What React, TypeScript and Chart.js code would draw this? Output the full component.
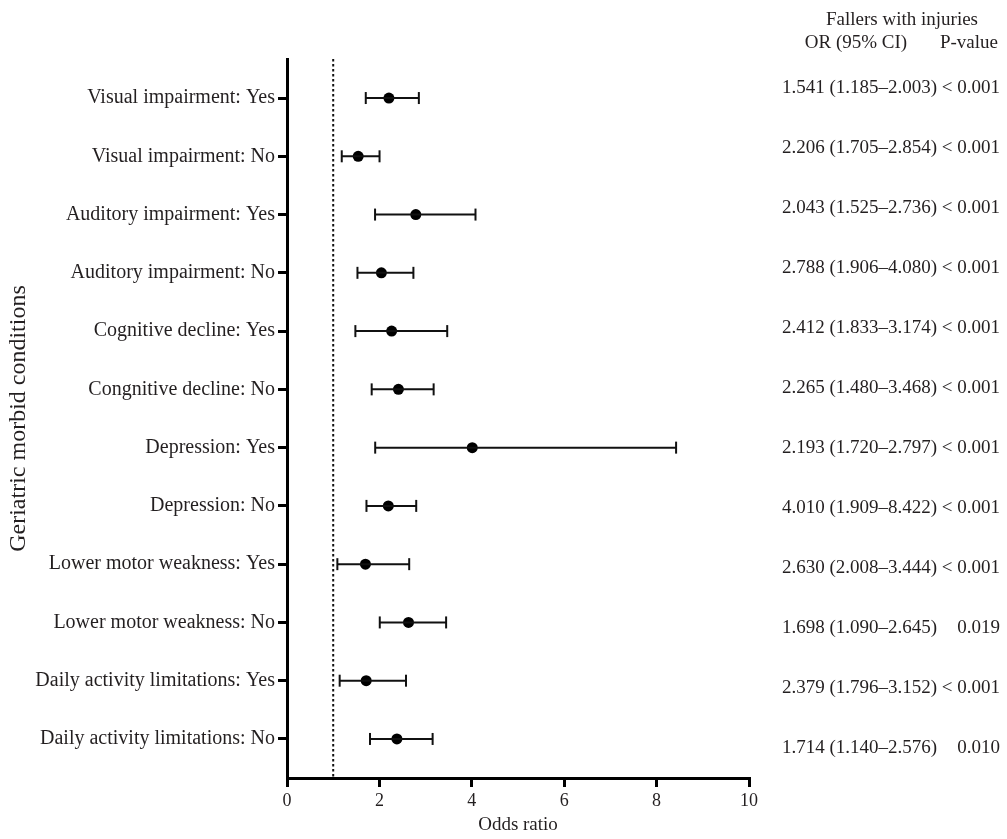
import React, { useEffect, useRef } from "react";
import { Chart, registerables } from "chart.js";

Chart.register(...registerables);

const categories = [
  "Visual impairment: Yes",
  "Visual impairment: No",
  "Auditory impairment: Yes",
  "Auditory impairment: No",
  "Cognitive decline: Yes",
  "Congnitive decline: No",
  "Depression: Yes",
  "Depression: No",
  "Lower motor weakness: Yes",
  "Lower motor weakness: No",
  "Daily activity limitations: Yes",
  "Daily activity limitations: No",
];

// plotted odds ratios and 95% CI
const oddsRatio = [2.206, 1.541, 2.788, 2.043, 2.265, 2.412, 4.01, 2.193, 1.698, 2.63, 1.714, 2.379];
const ciLow = [1.705, 1.185, 1.906, 1.525, 1.48, 1.833, 1.909, 1.72, 1.09, 2.008, 1.14, 1.796];
const ciHigh = [2.854, 2.003, 4.08, 2.736, 3.468, 3.174, 8.422, 2.797, 2.645, 3.444, 2.576, 3.152];

// right-hand table text, as printed
const tableOR = [
  "1.541 (1.185–2.003)",
  "2.206 (1.705–2.854)",
  "2.043 (1.525–2.736)",
  "2.788 (1.906–4.080)",
  "2.412 (1.833–3.174)",
  "2.265 (1.480–3.468)",
  "2.193 (1.720–2.797)",
  "4.010 (1.909–8.422)",
  "2.630 (2.008–3.444)",
  "1.698 (1.090–2.645)",
  "2.379 (1.796–3.152)",
  "1.714 (1.140–2.576)",
];
const tableP = ["< 0.001", "< 0.001", "< 0.001", "< 0.001", "< 0.001", "< 0.001", "< 0.001", "< 0.001", "< 0.001", "0.019", "< 0.001", "0.010"];

const xTicks = [0, 2, 4, 6, 8, 10];
const referenceLine = 1;

const FONT = "'Liberation Serif', 'Times New Roman', serif";
const TEXT = "#231f20";

export default function App() {
  const ref = useRef<HTMLCanvasElement | null>(null);

  useEffect(() => {
    if (!ref.current) return;
    const yMin = -0.67;
    const yMax = categories.length - 1 + 0.67;

    const tablePlugin = {
      id: "tablePlugin",
      afterDraw(chart: any) {
        const ctx = chart.ctx;
        ctx.save();
        ctx.fillStyle = TEXT;
        ctx.font = `19px ${FONT}`;
        ctx.textBaseline = "middle";
        ctx.textAlign = "center";
        ctx.fillText("Fallers with injuries", 902, 20);
        ctx.fillText("OR (95% CI)", 856, 43);
        ctx.fillText("P-value", 969, 43);
        tableOR.forEach((t, i) => {
          const y = 88 + i * 60;
          ctx.textAlign = "left";
          ctx.fillText(t, 782, y);
          ctx.textAlign = "right";
          ctx.fillText(tableP[i], 1000, y);
        });
        ctx.restore();
      },
    };

    const ciSets = categories.map((_, i) => ({
      type: "scatter" as const,
      showLine: true,
      data: [
        { x: ciLow[i], y: i },
        { x: ciHigh[i], y: i },
      ],
      borderColor: "#111",
      borderWidth: 2,
      pointStyle: "line" as const,
      rotation: 90,
      pointRadius: 6,
      pointBorderWidth: 2,
      pointBorderColor: "#111",
    }));

    const chart = new Chart(ref.current, {
      type: "scatter",
      data: {
        datasets: [
          {
            type: "scatter",
            showLine: true,
            data: [
              { x: referenceLine, y: yMin },
              { x: referenceLine, y: yMax },
            ],
            borderColor: "#111",
            borderWidth: 2,
            borderDash: [2.5, 2.5],
            pointRadius: 0,
          } as any,
          ...ciSets,
          {
            type: "scatter",
            data: oddsRatio.map((v, i) => ({ x: v, y: i })),
            pointRadius: 5.5,
            pointBackgroundColor: "#000",
            pointBorderColor: "#000",
            pointBorderWidth: 0,
          } as any,
        ],
      },
      options: {
        animation: false,
        responsive: false,
        layout: { padding: { left: 0, top: 59, right: 258, bottom: 0 } },
        plugins: { legend: { display: false }, tooltip: { enabled: false } },
        scales: {
          x: {
            type: "linear",
            min: 0,
            max: 10,
            afterFit: (s: any) => {
              s.height = 61;
            },
            afterBuildTicks: (s: any) => {
              s.ticks = xTicks.map((v) => ({ value: v }));
            },
            ticks: { color: TEXT, font: { family: FONT, size: 18 }, padding: 3 },
            grid: { drawOnChartArea: false, drawTicks: true, tickLength: 9, lineWidth: 3, color: "#000" },
            border: { display: true, width: 3, color: "#000" },
            title: {
              display: true,
              text: "Odds ratio",
              color: TEXT,
              font: { family: FONT, size: 19 },
              padding: { top: 0, bottom: 3 },
            },
          },
          y: {
            type: "linear",
            reverse: true,
            min: yMin,
            max: yMax,
            afterFit: (s: any) => {
              s.width = 287;
            },
            afterBuildTicks: (s: any) => {
              s.ticks = categories.map((_, i) => ({ value: i }));
            },
            ticks: {
              autoSkip: false,
              color: TEXT,
              font: { family: FONT, size: 20 },
              padding: 3,
              callback: (v: any) => categories[Math.round(Number(v))] ?? "",
            },
            grid: { drawOnChartArea: false, drawTicks: true, tickLength: 9, lineWidth: 3, color: "#000" },
            border: { display: true, width: 3, color: "#000" },
            title: {
              display: true,
              text: "Geriatric morbid conditions",
              color: TEXT,
              font: { family: FONT, size: 24 },
              padding: { top: 4, bottom: 0 },
            },
          },
        },
      },
      plugins: [tablePlugin],
    });
    return () => chart.destroy();
  }, []);

  return (
    <div style={{ position: "fixed", left: 0, top: 0, width: 1007, height: 839, background: "#fff" }}>
      <canvas ref={ref} width={1007} height={839} />
    </div>
  );
}
